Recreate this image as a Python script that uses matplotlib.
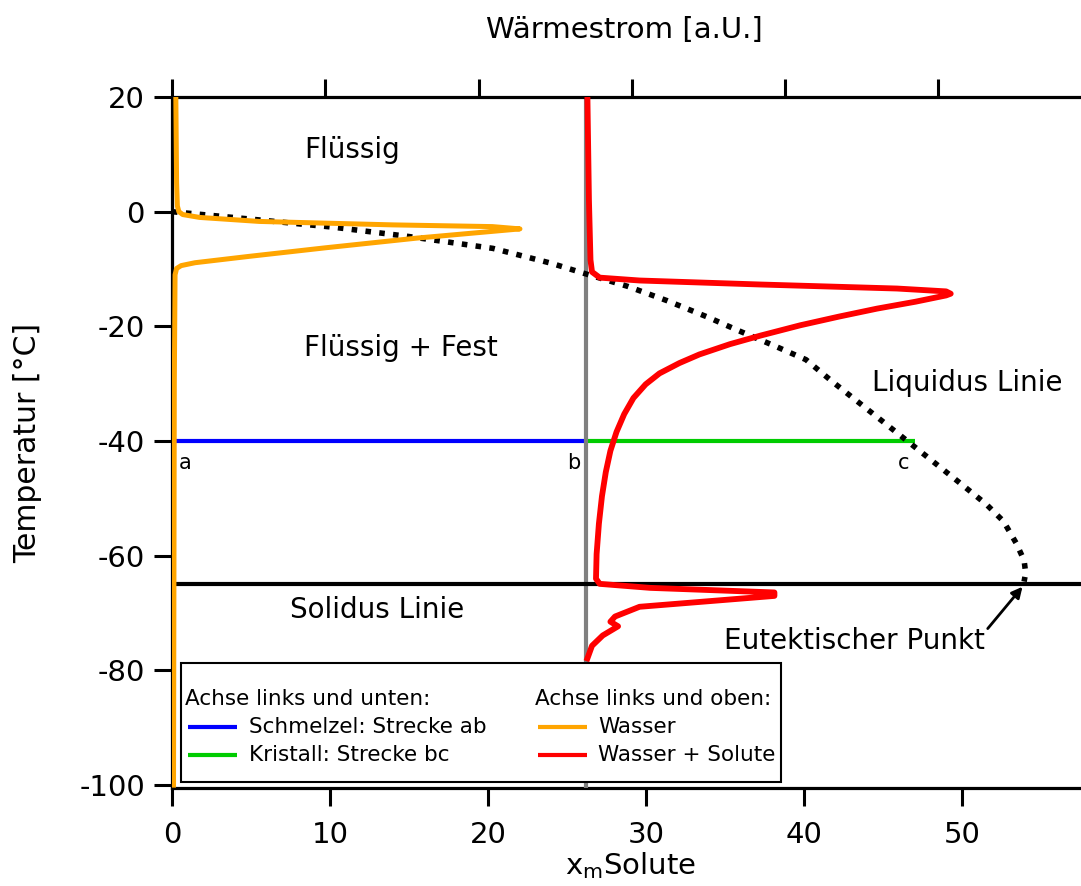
import numpy as np
import matplotlib
matplotlib.use("Agg")
import matplotlib.pyplot as plt
from matplotlib.lines import Line2D
from matplotlib.patches import Rectangle

plt.rcParams['font.family'] = ['DejaVu Sans']
plt.rcParams['axes.unicode_minus'] = False

# Phasendiagramm (unten: x_m Solute, links: Temperatur)
x_b = 26.2          # Zusammensetzung der Loesung
t_iso = -40         # isotherme Strecke a-b-c
x_c = 47.0
t_solidus = -65

liq_x = [0, 5, 10.2, 14.9, 20.3, 24, 26.0, 28.8, 31.3, 33.9, 35.8, 38.2, 40.1,
         41.8, 43.5, 46.2, 49.7, 51.5, 52.6, 53.4, 53.9, 54.0, 53.9]
liq_t = [0, -1.3, -2.7, -4.3, -6.4, -9.0, -10.7, -13.0, -15.5, -18.4, -20.7,
         -23.5, -25.8, -29.7, -33.4, -39.3, -47.0, -51.0, -54.0, -57.8,
         -60.8, -63.0, -64.5]

# DSC-Kurven (oben: Waermestrom, links: Temperatur)
wasser_q = [0.25, 0.3, 0.35, 0.45, 0.7, 1.8, 5.7, 14.4, 20.9, 22.7, 16, 10, 5,
            1.5, 0.6, 0.3, 0.2, 0.15, 0.1]
wasser_t = [20, 5, 1, 0, -0.5, -1.0, -1.7, -2.3, -2.6, -3.0, -4.6, -6.3, -7.8,
            -8.9, -9.4, -9.9, -11, -30, -100]

solute_q = [27.1, 27.2, 27.3, 27.4, 27.9, 30.5, 38.4, 47.3, 50.5, 50.8,
            50.5, 48.5, 46.0, 43.5, 41.0, 38.4, 36.4, 34.4, 33.1, 31.8, 30.9,
            30.1, 29.5, 29.0, 28.6, 28.3, 28.05, 27.85, 27.7, 27.66,
            27.9, 31.2, 39.3, 39.3, 30.5, 28.9, 28.6, 29.1, 28.1, 27.4, 27.1]
solute_t = [20, 2.0, -8.4, -10.5, -11.5, -12.0, -12.7, -13.4, -13.9, -14.3,
            -14.6, -15.7, -16.9, -18.3, -19.8, -21.6, -23.1, -24.9, -26.4,
            -28.2, -30.1, -32.5, -35.3, -38.4, -41.7, -45.4, -49.6, -54.4,
            -59.7, -64.0,
            -64.9, -65.6, -66.4, -67.0, -68.9, -70.6, -71.5, -72.3, -73.9,
            -75.7, -77.9]

fig = plt.figure(figsize=(10.81, 8.86), dpi=100)
ax = fig.add_axes([172 / 1081, 1 - 788 / 886, 909 / 1081, 691 / 886])

ax.plot([0, x_b], [t_iso, t_iso], color='#0000ff', lw=3, solid_capstyle='butt', zorder=2)
ax.plot([x_b, x_c], [t_iso, t_iso], color='#00cc00', lw=3, solid_capstyle='butt', zorder=2)
ax.axvline(x_b, color='#808080', lw=3, zorder=3)
ax.axhline(t_solidus, color='black', lw=3, zorder=4)
ax.plot(liq_x, liq_t, color='black', lw=4, linestyle=(0, (1, 1.5)),
        dash_capstyle='butt', zorder=5)

ax.annotate('', xy=(53.8, -65.4), xytext=(51.6, -72.7),
            arrowprops=dict(arrowstyle='-|>', color='black', lw=2,
                            mutation_scale=16, shrinkA=0, shrinkB=0))

kw = dict(ha='center', va='center', fontsize=20)
ax.text(11.4, 10.8, 'Flüssig', **kw)
ax.text(14.5, -23.8, 'Flüssig + Fest', **kw)
ax.text(13.0, -69.4, 'Solidus Linie', **kw)
ax.text(50.3, -29.9, 'Liquidus Linie', **kw)
ax.text(43.2, -74.9, 'Eutektischer Punkt', **kw)
for lbl, xp in [('a', 0.8), ('b', 25.4), ('c', 46.3)]:
    ax.text(xp, -43.9, lbl, ha='center', va='center', fontsize=15)

ax.set_xlim(0, 57.5)
ax.set_ylim(-100.5, 20)
ax.set_xticks(range(0, 60, 10))
ax.set_yticks(range(-100, 21, 20))
ax.tick_params(direction='out', length=13, width=2.2, labelsize=21)
ax.tick_params(axis='x', pad=11)
ax.tick_params(axis='y', pad=6.5)
for s in ['top', 'right']:
    ax.spines[s].set_visible(False)
for s in ['left', 'bottom']:
    ax.spines[s].set_linewidth(2.3)
ax.set_xlabel(r'x$_{\mathrm{m}}$Solute', fontsize=21)
ax.xaxis.set_label_coords(0.504, -0.09)
ax.set_ylabel('Temperatur [°C]', fontsize=21.5)
ax.yaxis.set_label_coords(-0.143, 0.5)

# zweite x-Achse oben fuer den Waermestrom
ax2 = ax.twiny()
ax2.set_xlim(0, 59.3)
ax2.set_ylim(ax.get_ylim())
ax2.set_xticks(range(0, 60, 10))
ax2.tick_params(axis='x', direction='out', length=13, width=2.2, labeltop=False)
for s in ['bottom', 'left', 'right']:
    ax2.spines[s].set_visible(False)
ax2.spines['top'].set_linewidth(2.3)
ax2.set_xlabel('Wärmestrom [a.U.]', fontsize=21)
ax2.xaxis.set_label_coords(0.498, 1.085)

ax2.plot(wasser_q, wasser_t, color='#ffa500', lw=3.6, zorder=6)
ax2.plot(solute_q, solute_t, color='#ff0000', lw=4.2, zorder=6)

# Legende mit zwei Spalten und Ueberschriften
tr = ax2.transAxes
ax2.add_patch(Rectangle((0.0099, 0.0087), 0.660, 0.172, transform=tr,
                        facecolor='white', edgecolor='black', lw=1.5, zorder=10))
lfs = 15.5
rows = [0.1288, 0.0883, 0.0478]
columns = [
    (0.0143, 0.0176, 0.0715, 0.0847, 'Achse links und unten:',
     [('#0000ff', 'Schmelzel: Strecke ab'), ('#00cc00', 'Kristall: Strecke bc')]),
    (0.3993, 0.4026, 0.4565, 0.4686, 'Achse links und oben:',
     [('#ffa500', 'Wasser'), ('#ff0000', 'Wasser + Solute')]),
]
for hx, l0, l1, tx, head, entries in columns:
    ax2.text(hx, rows[0], head, transform=tr, fontsize=lfs, va='center', zorder=11)
    for (col, lbl), ry in zip(entries, rows[1:]):
        ax2.add_line(Line2D([l0, l1], [ry, ry], transform=tr, color=col, lw=3,
                            solid_capstyle='butt', zorder=11))
        ax2.text(tx, ry, lbl, transform=tr, fontsize=lfs, va='center', zorder=11)

fig.savefig('out.png', dpi=100)
